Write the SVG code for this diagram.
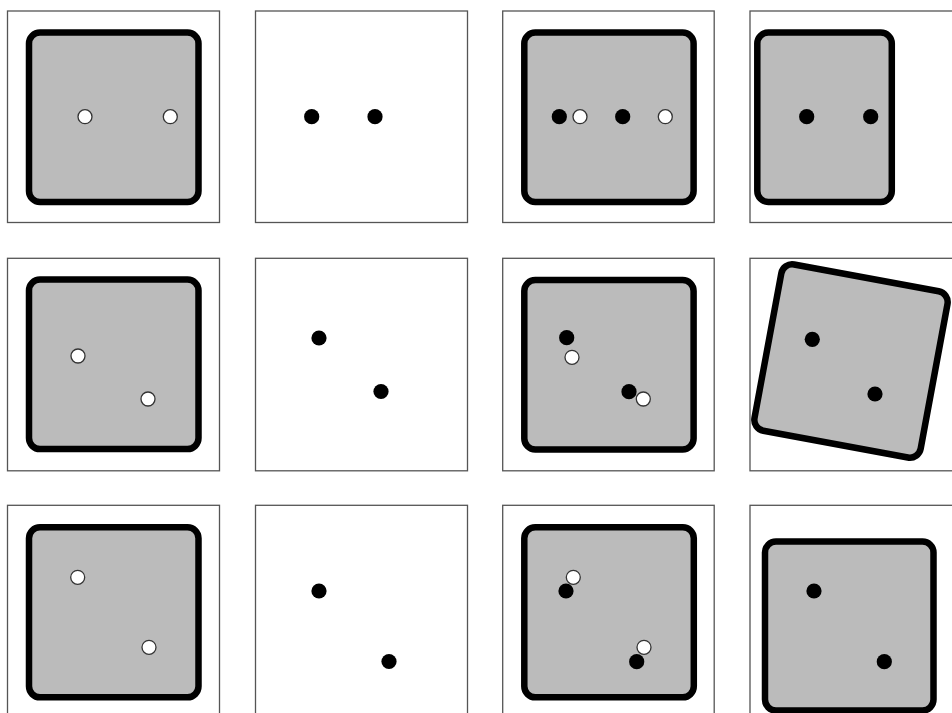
<svg xmlns="http://www.w3.org/2000/svg" width="952" height="713" viewBox="0 0 952 713">
<style>
.frame{fill:#fff;stroke:#555;stroke-width:1.3}
.die{fill:#bbb;stroke:#000;stroke-width:6.5}
.w{fill:#fff;stroke:#333;stroke-width:1.3}
.b{fill:#000}
</style>
<rect width="952" height="713" fill="#fff"/>
<g id="connectors"/>
<!-- Row 1 -->
<g id="p11">
<rect class="frame" x="7.5" y="11" width="212" height="211.5"/>
<rect class="die" x="29" y="32.5" width="169.5" height="169.5" rx="11"/>
<circle class="w" cx="85" cy="116.7" r="7"/>
<circle class="w" cx="170.3" cy="116.7" r="7"/>
</g>
<g id="p12">
<rect class="frame" x="255.5" y="11" width="212" height="211.5"/>
<circle class="b" cx="311.7" cy="116.7" r="7.6"/>
<circle class="b" cx="375" cy="116.7" r="7.6"/>
</g>
<g id="p13">
<rect class="frame" x="502.7" y="11" width="211.5" height="211.5"/>
<rect class="die" x="524.3" y="32.5" width="169.3" height="169.5" rx="11"/>
<circle class="b" cx="559.3" cy="116.7" r="7.6"/>
<circle class="w" cx="580" cy="116.7" r="7"/>
<circle class="b" cx="622.7" cy="116.7" r="7.6"/>
<circle class="w" cx="665.3" cy="116.7" r="7"/>
</g>
<g id="p14">
<rect class="frame" x="750" y="11" width="212" height="211.5"/>
<rect class="die" x="757.3" y="32.5" width="134.5" height="169.5" rx="11"/>
<circle class="b" cx="806.7" cy="116.7" r="7.6"/>
<circle class="b" cx="870.7" cy="116.7" r="7.6"/>
</g>
<!-- Row 2 -->
<g id="p21">
<rect class="frame" x="7.5" y="258.3" width="212" height="212.5"/>
<rect class="die" x="29" y="279.6" width="169.5" height="169.5" rx="11"/>
<circle class="w" cx="78" cy="356" r="7"/>
<circle class="w" cx="148" cy="399" r="7"/>
</g>
<g id="p22">
<rect class="frame" x="255.5" y="258.3" width="212" height="212.5"/>
<circle class="b" cx="319" cy="338" r="7.6"/>
<circle class="b" cx="381" cy="391.5" r="7.6"/>
</g>
<g id="p23">
<rect class="frame" x="502.7" y="258.3" width="211.5" height="212.5"/>
<rect class="die" x="524.3" y="280" width="169.3" height="169.5" rx="11"/>
<circle class="b" cx="566.7" cy="337.7" r="7.6"/>
<circle class="w" cx="572" cy="357.3" r="7"/>
<circle class="b" cx="629" cy="391.7" r="7.6"/>
<circle class="w" cx="643.3" cy="399" r="7"/>
</g>
<g id="p24">
<rect class="frame" x="750" y="258.3" width="212" height="212.5"/>
<rect class="die" x="766.5" y="276.5" width="169" height="169" rx="11" transform="rotate(10.5 851 361)"/>
<circle class="b" cx="812.3" cy="339.3" r="7.6"/>
<circle class="b" cx="875" cy="394" r="7.6"/>
</g>
<!-- Row 3 -->
<g id="p31">
<rect class="frame" x="7.5" y="505.3" width="212" height="212"/>
<rect class="die" x="29" y="527.3" width="169.5" height="170" rx="11"/>
<circle class="w" cx="77.7" cy="577.3" r="7"/>
<circle class="w" cx="149" cy="647.3" r="7"/>
</g>
<g id="p32">
<rect class="frame" x="255.5" y="505.3" width="212" height="212"/>
<circle class="b" cx="319" cy="591" r="7.6"/>
<circle class="b" cx="389" cy="661.5" r="7.6"/>
</g>
<g id="p33">
<rect class="frame" x="502.7" y="505.3" width="211.5" height="212"/>
<rect class="die" x="524.3" y="527.3" width="169.5" height="170" rx="11"/>
<circle class="w" cx="573.3" cy="577.3" r="7"/>
<circle class="b" cx="566" cy="591" r="7.6"/>
<circle class="w" cx="644" cy="647.3" r="7"/>
<circle class="b" cx="636.7" cy="661.7" r="7.6"/>
</g>
<g id="p34">
<rect class="frame" x="750" y="505.3" width="212" height="212"/>
<rect class="die" x="765" y="541.6" width="168.5" height="169" rx="11"/>
<circle class="b" cx="814" cy="591" r="7.6"/>
<circle class="b" cx="884.3" cy="661.7" r="7.6"/>
</g>
</svg>
